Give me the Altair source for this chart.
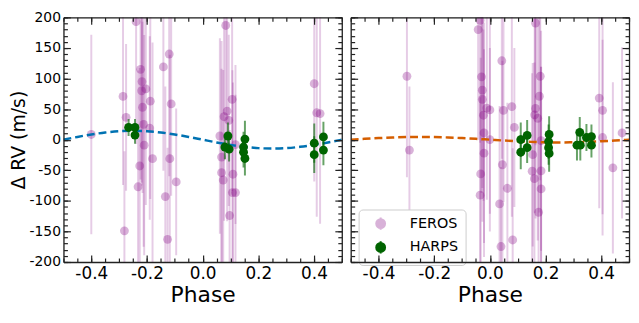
import altair as alt
import pandas as pd

# ---------------- data ----------------
# Left panel (FEROS)
l_feros_phase = [-0.400, -0.286, -0.281, -0.275, -0.239, -0.223, -0.218, -0.204, -0.219, -0.188,
                 -0.216, -0.212, -0.190, -0.210, -0.180, -0.226, -0.232, -0.141, -0.120, -0.113,
                 -0.118, -0.095, -0.134, -0.126,
                 0.083, 0.106, 0.088, 0.077, 0.094, 0.062, 0.118, 0.068, 0.068, 0.074,
                 0.109, 0.107, 0.118, 0.097,
                 0.401, 0.410, 0.422]
l_feros_rv = [8.5, 70.7, -149, 36.5, 193, 115, 95, 83, 80, 63,
              53, 25, 19, -9, -31, -43, -77, 119, 140, 58.5,
              -31, -69, -93, -163,
              186.7, 66, 46.7, 37.5, 31.5, 6, -8, -28.5, -54, -66,
              -56.5, -86.5, -86.5, -124,
              91.5, 44, 42.6]
l_feros_err = [163, 145, 130, 120, 200, 180, 170, 190, 150, 160,
               140, 200, 150, 180, 190, 160, 190, 170, 200, 150,
               170, 120, 180, 150,
               200, 150, 180, 170, 140, 160, 130, 190, 170, 180,
               150, 200, 160, 140,
               160, 170, 180]

# Left panel (HARPS)
l_harps_phase = [-0.266, -0.243, -0.243, 0.091, 0.080, 0.095, 0.152, 0.147, 0.147, 0.152,
                 0.401, 0.401, 0.434, 0.434]
l_harps_rv = [20, 20, 7.5, 6, -12, -15.5, 1, -12, -20.5, -30.7,
              -5.7, -24.5, 4.5, -17]
l_harps_err = [14, 14, 14, 22, 20, 20, 30, 25, 25, 28,
               32, 30, 25, 25]

# Right panel (FEROS)
r_feros_phase = [-0.298, -0.289, -0.035, -0.042, -0.030, -0.027, -0.027, -0.011, 0.000, -0.023,
                 -0.021, 0.000, -0.021, -0.033, -0.035, 0.043, 0.049, 0.079, 0.088, 0.045,
                 0.063, 0.035, 0.082, 0.040, 0.164, 0.181, 0.178, 0.164, 0.161, 0.172,
                 0.184, 0.154, 0.152, 0.160, 0.184, 0.184, 0.175, 0.393, 0.405, 0.405,
                 0.442, 0.475]
r_feros_rv = [103.7, -17, 195, 180, 102.7, 81, 66, 51.7, 48.7, 40,
              11, 0, -22, -56, -90.7, 129, 48, 54, 20, -41,
              -79.5, -105, -164, -174.7, 190.7, 103.7, 71, 51, 40.6, 35,
              -1.7, -24.5, -51.5, -63.7, -51, -80.5, -118.7, 68, 48, 3.5,
              -46, 11]
r_feros_err = [165, 104, 200, 180, 190, 160, 200, 150, 170, 140,
               180, 150, 170, 190, 160, 160, 150, 180, 130, 170,
               140, 160, 150, 130, 200, 170, 190, 180, 160, 200,
               180, 150, 160, 190, 170, 200, 150, 180, 170, 160,
               140, 140]

# Right panel (HARPS)
r_harps_phase = [0.111, 0.111, 0.134, 0.134, 0.213, 0.211, 0.211, 0.213,
                 0.323, 0.313, 0.325, 0.347, 0.365, 0.365]
r_harps_rv = [0, -20.5, 7, -13, 8.5, -3, -13, -22.5,
              12, -9, -9, 3.5, 5, -9]
r_harps_err = [28, 28, 25, 25, 30, 28, 28, 30,
               25, 25, 25, 22, 20, 20]

# Model curves
model_phase = [-0.50, -0.45, -0.40, -0.35, -0.30, -0.25, -0.20, -0.15, -0.10, -0.05, 0.00,
               0.05, 0.10, 0.15, 0.20, 0.25, 0.30, 0.35, 0.40, 0.45, 0.50]
l_model_rv = [0, 4.5, 8.5, 11.7, 13.8, 14.5, 13.8, 11.7, 8.5, 4.5, 0,
              -4.5, -8.5, -11.7, -13.8, -14.5, -13.8, -11.7, -8.5, -4.5, 0]
r_model_rv = [0, 1.4, 2.6, 3.6, 4.3, 4.5, 4.3, 3.6, 2.6, 1.4, 0,
              -1.4, -2.6, -3.6, -4.3, -4.5, -4.3, -3.6, -2.6, -1.4, 0]

x_major = [-0.4, -0.2, 0.0, 0.2, 0.4]
x_minor = [-0.5, -0.45, -0.4, -0.35, -0.3, -0.25, -0.2, -0.15, -0.1, -0.05, 0.0,
           0.05, 0.1, 0.15, 0.2, 0.25, 0.3, 0.35, 0.4, 0.45, 0.5]
y_major = [-200, -150, -100, -50, 0, 50, 100, 150, 200]
y_minor = list(range(-200, 201, 10))

# ---------------- styling ----------------
W, H = 281, 247
FONT = "DejaVu Sans"
PURPLE = "#800080"
GREEN = "#006400"
xs = alt.Scale(domain=[-0.5, 0.5], nice=False, zero=False)
ys = alt.Scale(domain=[-200, 200], nice=False, zero=False)
DASH = "#222222"


def axis(orient, values, tick=0, offset=0, domain=False, labels=False, **kw):
    d = dict(orient=orient, values=values, grid=False, domain=domain, labels=labels,
             ticks=tick > 0, tickSize=tick, offset=offset, tickColor=DASH, tickWidth=1.2,
             domainColor=DASH, domainWidth=1.3, zindex=1)
    d.update(kw)
    return alt.Axis(**d)


def x_axes():
    a = axis("bottom", x_major, domain=True, labels=True, labelFontSize=17, labelFont=FONT,
             labelColor="black", labelPadding=4,
             labelExpr="replace(format(datum.value, '.1f'), '\u2212', '-')",
             title="Phase", titleFontSize=22, titleFont=FONT, titleFontWeight="normal",
             titleColor="black", titlePadding=3)
    b = axis("top", x_major, tick=7, offset=-H)
    c = axis("top", x_minor, tick=4, offset=-H)
    d = axis("bottom", x_major, tick=7, offset=-H, domain=True)
    e = axis("bottom", x_minor, tick=4, offset=-H)
    return [a, b, c, d, e]


def y_axes(show_labels):
    if show_labels:
        a = axis("left", y_major, domain=True, labels=True, labelFontSize=14, labelFont=FONT,
                 labelColor="black", labelPadding=3,
                 labelExpr="replace(format(datum.value, 'd'), '\u2212', '-')",
                 title="\u0394 RV (m/s)", titleFontSize=19, titleFont=FONT,
                 titleFontWeight="normal", titleColor="black", titlePadding=1)
    else:
        a = axis("left", y_major, domain=True)
    b = axis("right", y_major, tick=7, offset=-W)
    c = axis("right", y_minor, tick=4, offset=-W)
    d = axis("left", y_major, tick=7, offset=-W, domain=True)
    e = axis("left", y_minor, tick=4, offset=-W)
    return [a, b, c, d, e]


legend_path = "M -1 0 A 1 1 0 1 1 1 0 A 1 1 0 1 1 -1 0 Z M 0 -1.4 L 0 1.4"
cscale = alt.Scale(domain=["FEROS", "HARPS"], range=[PURPLE, GREEN])
oscale = alt.Scale(domain=["FEROS", "HARPS"], range=[0.3, 1.0])
leg = alt.Legend(orient="none", legendX=8, legendY=194, title=None, fillColor="white",
                 strokeColor="#cccccc", cornerRadius=4, padding=7, symbolType=legend_path,
                 symbolSize=80, symbolStrokeWidth=2, symbolOffset=8, labelFontSize=14.5,
                 labelFont=FONT, labelColor="black", labelOffset=22, rowPadding=2)


def panel(fp, frv, ferr, hp, hrv, herr, mrv, line_color, show_labels, legend):
    fer = pd.DataFrame({"phase": fp, "rv": frv, "err": ferr, "inst": "FEROS"})
    har = pd.DataFrame({"phase": hp, "rv": hrv, "err": herr, "inst": "HARPS"})
    mod = pd.DataFrame({"phase": model_phase, "rv": mrv})
    xa = x_axes()
    ya = y_axes(show_labels)

    def X(i):
        return alt.X("phase:Q", scale=xs, axis=xa[i], title=None if i > 0 else "Phase")

    def Y(field, i):
        return alt.Y(field, scale=ys, axis=ya[i],
                     title=("\u0394 RV (m/s)" if (i == 0 and show_labels) else None))

    f_bars = alt.Chart(fer).transform_calculate(
        lo="datum.rv - datum.err", hi="datum.rv + datum.err"
    ).mark_rule(strokeWidth=2, color=PURPLE, opacity=0.2, clip=True).encode(
        x=X(0), y=Y("lo:Q", 0), y2="hi:Q")

    if legend:
        f_pts = alt.Chart(fer).mark_circle(size=80, strokeWidth=0, clip=True).encode(
            x=X(1), y=Y("rv:Q", 1),
            fill=alt.Fill("inst:N", scale=cscale, legend=leg),
            stroke=alt.Stroke("inst:N", scale=cscale, legend=leg),
            opacity=alt.Opacity("inst:N", scale=oscale, legend=leg))
    else:
        f_pts = alt.Chart(fer).mark_circle(size=80, color=PURPLE, opacity=0.3, clip=True).encode(
            x=X(1), y=Y("rv:Q", 1))

    line = alt.Chart(mod).mark_line(color=line_color, strokeWidth=2.5, strokeDash=[8, 4],
                                     interpolate="monotone", clip=True).encode(
        x=X(2), y=Y("rv:Q", 2))

    h_bars = alt.Chart(har).transform_calculate(
        lo="datum.rv - datum.err", hi="datum.rv + datum.err"
    ).mark_rule(strokeWidth=2, color=GREEN, opacity=0.6, clip=True).encode(
        x=X(3), y=Y("lo:Q", 3), y2="hi:Q")

    if legend:
        h_pts = alt.Chart(har).mark_circle(size=80, strokeWidth=0, clip=True).encode(
            x=X(4), y=Y("rv:Q", 4),
            fill=alt.Fill("inst:N", scale=cscale, legend=leg),
            stroke=alt.Stroke("inst:N", scale=cscale, legend=leg),
            opacity=alt.Opacity("inst:N", scale=oscale, legend=leg))
    else:
        h_pts = alt.Chart(har).mark_circle(size=80, color=GREEN, opacity=1, clip=True).encode(
            x=X(4), y=Y("rv:Q", 4))

    return alt.layer(f_bars, f_pts, line, h_bars, h_pts).resolve_axis(
        x="independent", y="independent").properties(width=W, height=H)


left = panel(l_feros_phase, l_feros_rv, l_feros_err, l_harps_phase, l_harps_rv, l_harps_err,
             l_model_rv, "#0072B2", True, False)
right = panel(r_feros_phase, r_feros_rv, r_feros_err, r_harps_phase, r_harps_rv, r_harps_err,
              r_model_rv, "#D55E00", False, True)

chart = alt.hconcat(left, right, spacing=5).resolve_legend(
    fill="independent", stroke="independent", opacity="independent"
).properties(
    padding={"left": 0, "top": 0, "right": 0, "bottom": 0}
).configure_view(stroke=None).configure(font=FONT, background="white")

chart.save("out.html", embed_options={"renderer": "svg", "actions": False})
